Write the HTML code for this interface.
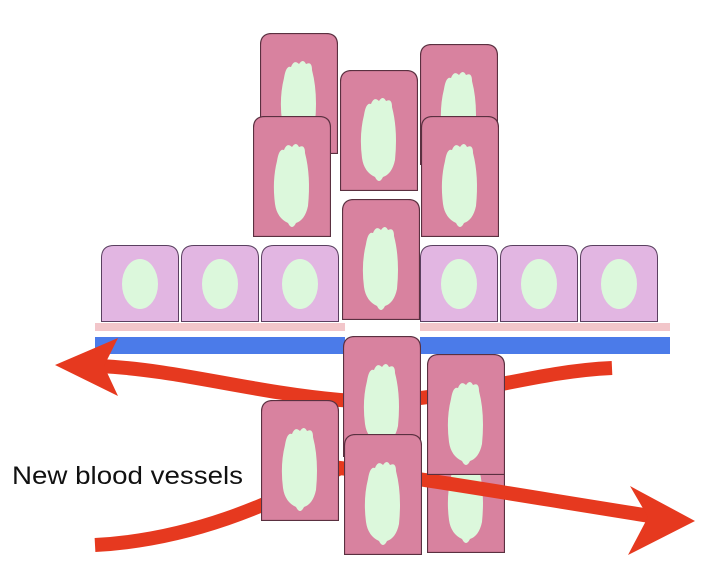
<!DOCTYPE html>
<html><head><meta charset="utf-8"><style>
html,body{margin:0;padding:0;background:#fff;width:726px;height:568px;overflow:hidden}
svg{display:block}
</style></head><body>
<svg width="726" height="568" viewBox="0 0 726 568">
<defs>
<symbol id="dc" viewBox="0 0 78 121" width="78" height="121">
<path d="M0.5,120.5 V12 Q0.5,0.5 12,0.5 H66 Q77.5,0.5 77.5,12 V120.5 Z" fill="#d8829f" stroke="#5a3040" stroke-width="1.2"/>
<path d="M24,45 Q26,32 31,34 Q34,26 39,31 Q43,25 46,31 Q52,28 52,37 Q58,60 55,90 Q52,104 43,107 Q39,115 35,107 Q24,102 22,88 Q19,65 24,45 Z" fill="#dcf8dc"/>
</symbol>
<symbol id="lc" viewBox="0 0 78 77" width="78" height="77">
<path d="M0.5,76.5 V13 Q0.5,0.5 13,0.5 H65 Q77.5,0.5 77.5,13 V76.5 Z" fill="#e2b6e2" stroke="#5a4060" stroke-width="1"/>
<ellipse cx="39" cy="39" rx="18" ry="25" fill="#dcf8dc"/>
</symbol>
</defs>
<g>
<use href="#dc" x="260" y="33"/>
<use href="#dc" x="420" y="44"/>
<use href="#dc" x="340" y="70"/>
<use href="#dc" x="253" y="116"/>
<use href="#dc" x="421" y="116"/>
</g>
<g>
<use href="#lc" x="101" y="245"/>
<use href="#lc" x="181" y="245"/>
<use href="#lc" x="261" y="245"/>
<use href="#lc" x="420" y="245"/>
<use href="#lc" x="500" y="245"/>
<use href="#lc" x="580" y="245"/>
</g>
<use href="#dc" x="342" y="199"/>
<rect x="95" y="323" width="250" height="8" fill="#f2c6ca"/>
<rect x="420" y="323" width="250" height="8" fill="#f2c6ca"/>
<rect x="95" y="337" width="250" height="17" fill="#4b7be9"/>
<rect x="420" y="337" width="250" height="17" fill="#4b7be9"/>
<use href="#dc" x="427" y="432"/>
<g>
<path d="M612,368 C520,372 440,408 340,400 C250,392 180,370 100,366" fill="none" stroke="#e6391f" stroke-width="14"/>
<polygon points="55,365 118,338 104,366 118,396" fill="#e6391f"/>
</g>
<g>
<path d="M95,545 C190,540 270,505 340,468 C420,478 530,497 650,516" fill="none" stroke="#e6391f" stroke-width="14"/>
<polygon points="695,521 630,486 648,517 628,555" fill="#e6391f"/>
</g>
<use href="#dc" x="343" y="336"/>
<use href="#dc" x="427" y="354"/>
<use href="#dc" x="261" y="400"/>
<use href="#dc" x="344" y="434"/>
<text x="12" y="484" font-family="Liberation Sans, sans-serif" font-size="25" fill="#111" textLength="231" lengthAdjust="spacingAndGlyphs">New blood vessels</text>
</svg>
</body></html>
